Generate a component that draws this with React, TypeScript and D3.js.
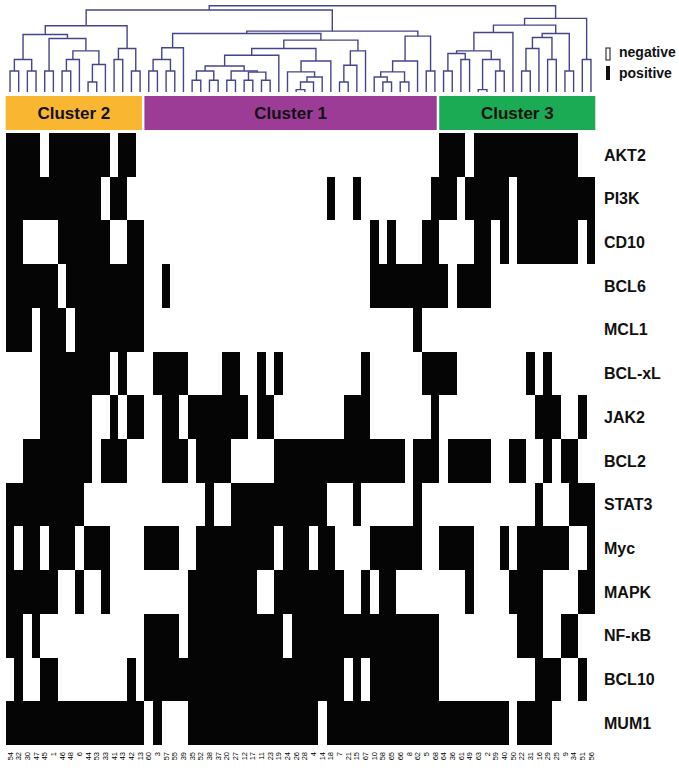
import React from "react";
import * as d3 from "d3";

// markers (rows, top to bottom)
const markers = ["AKT2", "PI3K", "CD10", "BCL6", "MCL1", "BCL-xL", "JAK2", "BCL2", "STAT3", "Myc", "MAPK", "NF-κB", "BCL10", "MUM1"];

// sample ids along the bottom, in dendrogram order
const sampleIds = [
  54, 32, 30, 47, 45, 1, 46, 48, 6, 44, 53, 33, 41, 43, 42, 13,
  60, 3, 57, 55, 39, 35, 52, 38, 37, 20, 27, 12, 17, 11, 23, 19, 24, 26, 28, 4, 14, 18, 7, 21, 15, 67, 10, 58, 65, 66, 8, 62, 5, 68,
  64, 36, 61, 49, 63, 2, 59, 40, 50, 22, 31, 16, 29, 25, 9, 34, 51, 56,
];

// positive (black) runs for each marker: [first column, last column]
const positiveRuns: number[][][] = [
  [[0, 3], [5, 11], [13, 14], [50, 52], [54, 65]],
  [[0, 10], [12, 13], [37, 37], [40, 40], [49, 51], [53, 57], [59, 67]],
  [[0, 1], [6, 11], [14, 15], [42, 42], [44, 44], [48, 49], [54, 55], [57, 57], [59, 65], [67, 67]],
  [[0, 5], [7, 15], [18, 18], [42, 50], [52, 55]],
  [[0, 2], [4, 6], [8, 15], [47, 47]],
  [[4, 11], [13, 13], [17, 20], [25, 26], [29, 29], [31, 31], [41, 41], [48, 51], [60, 60], [62, 62]],
  [[4, 9], [12, 12], [14, 15], [18, 19], [21, 27], [29, 30], [39, 41], [49, 49], [61, 63], [66, 66]],
  [[2, 9], [11, 13], [18, 20], [22, 25], [31, 45], [47, 49], [51, 55], [58, 59], [62, 62], [64, 65]],
  [[0, 8], [23, 23], [26, 36], [40, 40], [47, 47], [61, 61], [65, 67]],
  [[0, 0], [2, 3], [5, 7], [9, 11], [16, 19], [22, 30], [32, 34], [36, 37], [42, 47], [50, 53], [57, 57], [59, 64], [67, 67]],
  [[0, 5], [8, 8], [11, 11], [21, 28], [31, 38], [41, 41], [43, 44], [53, 53], [58, 61], [66, 67]],
  [[0, 1], [3, 3], [16, 19], [21, 31], [33, 49], [59, 61], [64, 65]],
  [[1, 1], [4, 5], [14, 14], [16, 38], [40, 40], [42, 49], [61, 63], [66, 66]],
  [[0, 15], [17, 17], [21, 35], [37, 57], [59, 62]],
];

const clusterNames = ["Cluster 2", "Cluster 1", "Cluster 3"];
const clusterFirst = [0, 16, 50];
const clusterLast = [15, 49, 67];
const clusterColors = ["#f9b631", "#9c3c97", "#1bab54"];

// dendrogram nodes: leaf = column index, merge = [left, right, height]
type Node = number | [Node, Node, number];

const cluster2Tree: Node = [
  [[[0, 1, 2.44], [2, 3, 2.44], 3.76],
   [[4, 5, 2.44], [[[6, 7, 2.44], 8, 3.76], [[9, 10, 1.16], 11, 3.18], 4.77], 6.2], 6.67],
  [[12, 13, 3.76], [14, 15, 2.44], 5.04],
  7.67,
];

const cluster1Left: Node = [[[16, 17, 2.44], [18, 19, 2.44], 3.76], 20, 5.12];
const cluster1Mid: Node = [
  [
    [[[[21, 22, 1.36], [23, 24, 1.36], 2.44], [[25, 26, 1.36], [[27, 28, 1.36], [29, 30, 1.36], 2.3], 2.44], 3.02], 31, 4.26],
    [[32, [[[33, 34, 0.27], 35, 1.16], 36, 1.74], 2.33], 37, 3.6],
    5.04,
  ],
  [[[38, 39, 1.16], 40, 3.1], 41, 4.77],
  6.01,
];
const cluster1Right: Node = [[[[42, [43, 44, 1.16], 1.74], [45, 46, 1.16], 2.33], 47, 3.6], [48, 49, 2.44], 6.47];
const cluster1Tree: Node = [[cluster1Left, cluster1Mid, 6.78], cluster1Right, 7.05];

const cluster3Left: Node = [[[[50, 51, 2.44], [52, 53, 3.76], 4.46], [[54, 55, 0.27], [56, 57, 2.44], 3.76], 4.77], 58, 6.9];
const cluster3Mid: Node = [[[[59, 60, 2.44], 61, 5.04], [62, 63, 3.76], 6.32], [64, 65, 2.44], 6.78];
const cluster3Tree: Node = [[cluster3Left, cluster3Mid, 7.75], [66, 67, 3.76], 8.53];

const rootTree: Node = [[cluster2Tree, cluster1Tree, 9.5], cluster3Tree, 10];

const FONT = "'Liberation Sans', Arial, sans-serif";

export default function App() {
  const width = 679;
  const height = 772;

  const x = d3.scaleBand<number>().domain(d3.range(sampleIds.length)).range([5.7, 595.3]);
  const y = d3.scaleBand<string>().domain(markers).range([133, 745]);
  const hy = d3.scaleLinear().domain([0, 10]).range([92, 5.7]);
  const bw = x.bandwidth();

  const branches: string[] = [];
  const walk = (node: Node): { px: number; py: number } => {
    if (typeof node === "number") return { px: x(node)! + bw / 2, py: hy(0) };
    const a = walk(node[0]);
    const b = walk(node[1]);
    const yy = hy(node[2]);
    const p = d3.path();
    p.moveTo(a.px, a.py);
    p.lineTo(a.px, yy);
    p.lineTo(b.px, yy);
    p.lineTo(b.px, b.py);
    branches.push(p.toString());
    return { px: (a.px + b.px) / 2, py: yy };
  };
  walk(rootTree);

  return (
    <svg width={width} height={height} style={{ position: "absolute", left: 0, top: 0, background: "#fff" }}>
      <g fill="none" stroke="#45458c" strokeWidth={1.4}>
        {branches.map((d, i) => (
          <path key={i} d={d} />
        ))}
      </g>

      {clusterNames.map((name, i) => {
        const x0 = x(clusterFirst[i])!;
        const x1 = x(clusterLast[i])! + bw - (i < clusterNames.length - 1 ? 2.5 : 0);
        return (
          <g key={name}>
            <rect x={x0} y={96} width={x1 - x0} height={34} fill={clusterColors[i]} />
            <text x={(x0 + x1) / 2} y={119} textAnchor="middle" fontFamily={FONT} fontWeight="bold" fontSize={17} fill="#111">
              {name}
            </text>
          </g>
        );
      })}

      <g shapeRendering="crispEdges" fill="#050505">
        {markers.map((m, r) =>
          positiveRuns[r].map(([a, b], k) => (
            <rect key={m + k} x={x(a)!} y={y(m)!} width={x(b)! + bw - x(a)!} height={y.bandwidth()} />
          ))
        )}
      </g>

      {markers.map((m) => (
        <text key={m} x={604} y={y(m)! + y.bandwidth() / 2} dy="0.36em" fontFamily={FONT} fontWeight="bold" fontSize={16} fill="#111">
          {m}
        </text>
      ))}

      {sampleIds.map((id, i) => (
        <text
          key={i}
          transform={`translate(${x(i)! + bw / 2},752) rotate(-90)`}
          textAnchor="end"
          dy="0.35em"
          fontFamily={FONT}
          fontSize={7.5}
          fill="#000"
        >
          {id}
        </text>
      ))}

      <rect x={606} y={48} width={4} height={12} fill="#fff" stroke="#111" strokeWidth={1} />
      <rect x={606} y={66} width={4} height={14} fill="#111" />
      <text x={619} y={57} fontFamily={FONT} fontWeight="bold" fontSize={14} fill="#111">negative</text>
      <text x={619} y={78} fontFamily={FONT} fontWeight="bold" fontSize={14} fill="#111">positive</text>
    </svg>
  );
}
